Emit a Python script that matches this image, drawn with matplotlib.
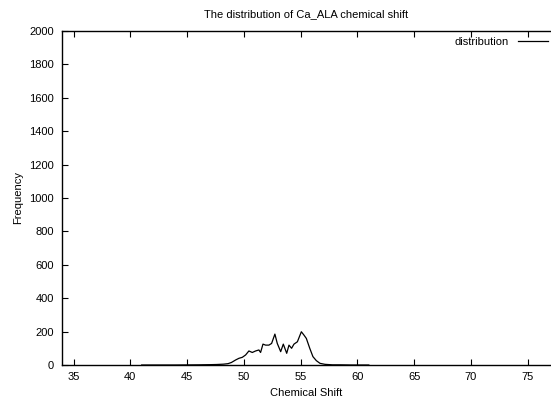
import matplotlib
matplotlib.use("Agg")
import matplotlib.pyplot as plt

plt.rcParams['font.family'] = ['Liberation Sans', 'DejaVu Sans']

shift = [41.0, 44.0, 46.0, 47.0, 47.6, 48.2, 48.6, 48.9, 49.27, 49.56, 49.86, 50.15,
         50.44, 50.74, 51.03, 51.32, 51.47, 51.68, 51.91, 52.2, 52.44, 52.73, 52.94,
         53.24, 53.47, 53.77, 53.97, 54.2, 54.41, 54.71, 55.06, 55.29, 55.5, 55.8,
         56.08, 56.38, 56.7, 57.14, 57.8, 58.5, 59.5, 61.0]
frequency = [0, 0, 1, 2, 3, 5, 8, 15, 30, 40, 46, 60,
             84, 75, 84, 90, 75, 125, 119, 119, 129, 185, 129,
             80, 125, 70, 119, 100, 125, 139, 199, 179, 159, 100,
             50, 26, 10, 4, 1, 1, 0, 0]

xticks = [35, 40, 45, 50, 55, 60, 65, 70, 75]
yticks = list(range(0, 2001, 200))

W, H = 551, 397
fig = plt.figure(figsize=(W / 100, H / 100), dpi=100)
left, right, top, bottom = 62.2, 550.5, 30.9, 365.0
ax = fig.add_axes([left / W, 1 - bottom / H, (right - left) / W, (bottom - top) / H])

ax.plot(shift, frequency, color='black', lw=0.9, label='distribution')
ax.set_xlim(34, 77)
ax.set_ylim(0, 2000)
ax.set_xticks(xticks)
ax.set_yticks(yticks)
ax.tick_params(direction='in', length=4, width=0.8, labelsize=8, top=True, right=False, pad=5)
ax.tick_params(axis='y', pad=6)
for s in ax.spines.values():
    s.set_linewidth(1.0)
ax.spines['right'].set_visible(False)

ax.set_title('The distribution of Ca_ALA chemical shift', fontsize=8, pad=10)
ax.set_xlabel('Chemical Shift', fontsize=8, labelpad=4)
ax.set_ylabel('Frequency', fontsize=8, labelpad=4)

ax.legend(loc='upper right', bbox_to_anchor=(1.0, 0.988), frameon=False, markerfirst=False,
          fontsize=8, handlelength=2.7, borderaxespad=0.0, borderpad=0.2, handletextpad=0.9)

fig.savefig('out.png', dpi=100)
